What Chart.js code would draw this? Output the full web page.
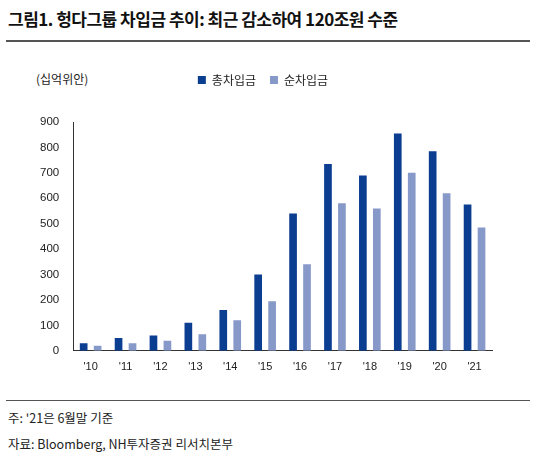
<!DOCTYPE html>
<html><head><meta charset="utf-8">
<script src="https://cdn.jsdelivr.net/npm/chart.js@4/dist/chart.umd.min.js"></script>
<style>
body{margin:0;width:536px;height:464px;background:#fff;font-family:"Noto Sans CJK KR",sans-serif;position:relative;overflow:hidden}
#title{position:absolute;left:8px;top:6px;font-size:17px;font-weight:bold;color:#111;letter-spacing:-0.5px}
.hr{position:absolute;left:6px;width:524px;border-top:2px solid #555}
#unit{position:absolute;left:36px;top:70px;font-size:12px;color:#222}
.note{position:absolute;left:8px;font-size:12.5px;color:#222}
#wrap{position:absolute;left:34px;top:60px;width:468px;height:324px}
</style></head><body>
<div id="title">그림1. 헝다그룹 차입금 추이: 최근 감소하여 120조원 수준</div>
<div class="hr" style="top:40px"></div>
<div id="unit">(십억위안)</div>
<div id="wrap"><canvas id="c"></canvas></div>
<div class="hr" style="top:400px;border-top-width:1.5px"></div>
<div class="note" style="top:408px">주: '21은 6월말 기준</div>
<div class="note" style="top:434px">자료: Bloomberg, NH투자증권 리서치본부</div>
<script>
// 연도, 총차입금, 순차입금
var years = ["'10","'11","'12","'13","'14","'15","'16","'17","'18","'19","'20","'21"];
var totalDebt = [30, 50, 60, 110, 160, 300, 540, 735, 690, 855, 785, 575];
var netDebt = [20, 30, 40, 65, 120, 195, 340, 580, 560, 700, 620, 485];
var yTicks = [0,100,200,300,400,500,600,700,800,900];

Chart.defaults.font.family = "'Liberation Sans','Noto Sans CJK KR',sans-serif";
Chart.defaults.color = "#222";
new Chart(document.getElementById('c'), {
    type: 'bar',
    data: {
        labels: years,
        datasets: [
            {label: '총차입금', data: totalDebt, backgroundColor: '#0b3d91', barPercentage: 0.55, categoryPercentage: 0.8},
            {label: '순차입금', data: netDebt, backgroundColor: '#8799c9', barPercentage: 0.55, categoryPercentage: 0.8}
        ]
    },
    options: {
        responsive: true, maintainAspectRatio: false, animation: false,
        layout: {padding: {right: 10, left: 0}},
        plugins: {
            legend: {position: 'top', labels: {boxWidth: 8, boxHeight: 8, font: {size: 12, family: "'Noto Sans CJK KR'"}, padding: 14},
                     padding: 0},
            tooltip: {enabled: false}
        },
        scales: {
            x: {grid: {display: false, drawTicks: false}, border: {color: '#333'},
                ticks: {font: {size: 11}, padding: 10}},
            y: {min: 0, max: 900, afterBuildTicks: function(s){ s.ticks = yTicks.map(function(v){return {value: v};}); },
                grid: {display: false}, border: {color: '#333'},
                ticks: {font: {size: 11.5}, padding: 6}}
        }
    },
    plugins: [{id: 'legendGap', beforeInit: function(chart){
        var fit = chart.legend.fit;
        chart.legend.fit = function(){ fit.bind(chart.legend)(); this.height += 26; };
    }}]
});
</script>
</body></html>
